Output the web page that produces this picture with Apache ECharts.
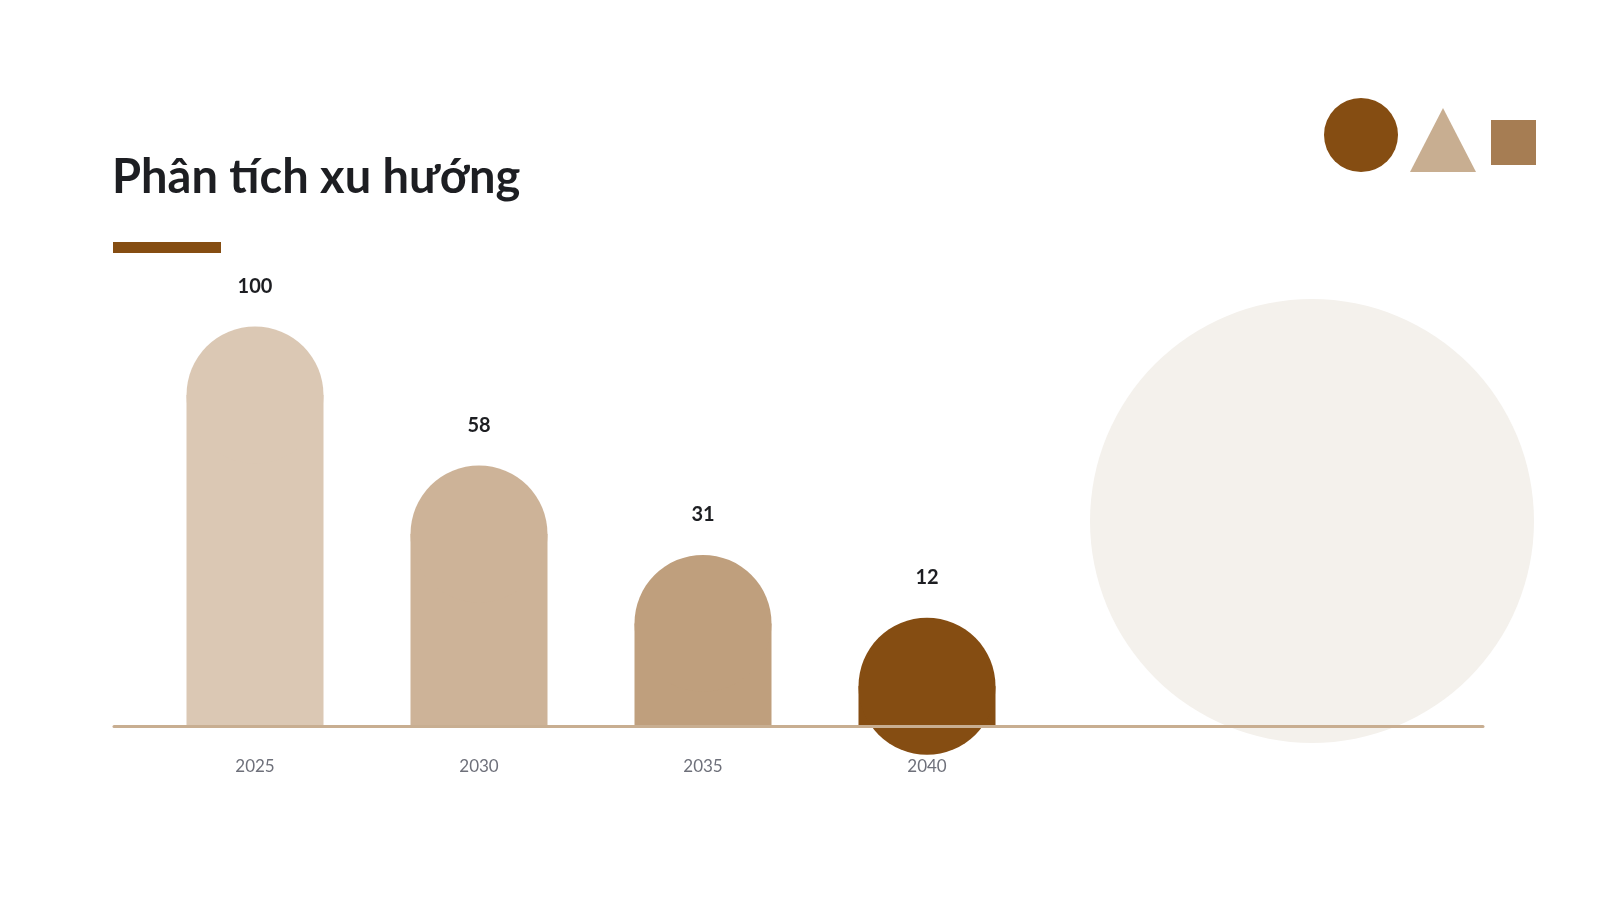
<!DOCTYPE html>
<html>
<head>
<meta charset="utf-8">
<script src="https://cdn.jsdelivr.net/npm/echarts@6/dist/echarts.min.js"></script>
<style>
html,body{margin:0;padding:0;background:#ffffff;}
#chart{width:1598px;height:900px;}
</style>
</head>
<body>
<div id="chart"></div>
<script>
// ---- data ----
const titleText = 'Phân tích xu hướng';
const categories = ['2025', '2030', '2035', '2040'];
const values = [100, 58, 31, 12];
// ---- palette ----
const barColors = ['#DBC8B4', '#CDB398', '#BF9F7D', '#854D12'];

const chart = echarts.init(document.getElementById('chart'));
const FONT = 'Lato, "Noto Sans", sans-serif';

const option = {
  backgroundColor: '#ffffff',
  animation: false,
  title: {
    text: titleText,
    left: 107,
    top: 149,
    textStyle: { fontFamily: FONT, fontWeight: 'bold', fontSize: 47, color: '#1D1E22' }
  },
  graphic: [
    { type: 'circle', z: -10, shape: { cx: 1312, cy: 521, r: 222 }, style: { fill: '#F4F1EC' } },
    { type: 'rect', z: 1, shape: { x: 113, y: 242, width: 108, height: 11 }, style: { fill: '#854D12' } },
    { type: 'circle', z: 1, shape: { cx: 1361, cy: 135, r: 37 }, style: { fill: '#854D12' } },
    { type: 'polygon', z: 1, shape: { points: [[1443, 108], [1410, 172], [1476, 172]] }, style: { fill: '#C8AE91' } },
    { type: 'rect', z: 1, shape: { x: 1491, y: 120, width: 45, height: 45 }, style: { fill: '#A67D53' } }
  ],
  grid: [
    { left: 143, right: 559, top: 395, bottom: 174 },
    { left: 114, right: 115, top: 395, bottom: 174 }
  ],
  xAxis: [
    {
      type: 'category', gridIndex: 0, data: categories,
      axisLine: { show: false }, axisTick: { show: false },
      axisLabel: { margin: 32, fontFamily: FONT, fontSize: 17, color: '#6E707A' }
    },
    {
      type: 'category', gridIndex: 1, data: [''], z: 20,
      axisLine: { show: true, lineStyle: { color: '#C8AE91', width: 3 } },
      axisTick: { show: false }, axisLabel: { show: false }
    }
  ],
  yAxis: [
    { type: 'value', gridIndex: 0, min: 0, max: 100, show: false, splitLine: { show: false } },
    { type: 'value', gridIndex: 1, min: 0, max: 100, show: false, splitLine: { show: false } }
  ],
  series: [
    {
      type: 'bar', xAxisIndex: 0, yAxisIndex: 0, barWidth: 137,
      data: values.map((v, i) => ({ value: v, itemStyle: { color: barColors[i] } })),
      z: 2
    },
    {
      type: 'scatter', xAxisIndex: 0, yAxisIndex: 0, symbol: 'circle', symbolSize: 137,
      clip: false, z: 3,
      data: values.map((v, i) => ({ value: v, itemStyle: { color: barColors[i], opacity: 1 } })),
      label: {
        show: true, position: 'top', distance: 30,
        fontFamily: FONT, fontWeight: 'bold', fontSize: 20, color: '#1D1E22'
      },
      emphasis: { disabled: true }
    }
  ]
};
chart.setOption(option);
</script>
</body>
</html>
